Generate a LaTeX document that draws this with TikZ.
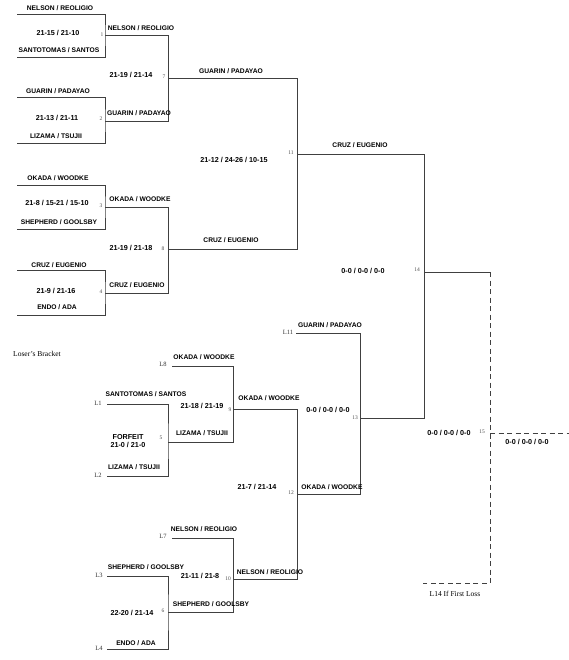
\documentclass[tikz,border=0pt]{standalone}
\usepackage{fontspec}
\setmainfont{Liberation Serif}
\newfontfamily\teamfont{Liberation Sans}
\begin{document}
\begin{tikzpicture}[x=1pt,y=-1pt,
  line/.style={draw=black!75, line width=0.75pt},
  dline/.style={line, dash pattern=on 5pt off 3.5pt},
  team/.style={font=\teamfont\bfseries\fontsize{6.7}{8}\selectfont, inner sep=0pt},
  score/.style={font=\teamfont\bfseries\fontsize{7.2}{8.5}\selectfont, inner sep=0pt, align=center},
  num/.style={font=\fontsize{5.5}{6}\selectfont, text=black!70, inner sep=0pt},
  lab/.style={font=\fontsize{6.5}{7}\selectfont, text=black!80, inner sep=0pt},
  note/.style={font=\fontsize{7.5}{8}\selectfont, inner sep=0pt}]
\useasboundingbox (0,0) rectangle (569,660);
% ---------- coordinates: winner's bracket
\coordinate (p1a) at (17,14);  \coordinate (p1b) at (17,57);  \coordinate (j1) at (105,35);
\coordinate (p2a) at (17,97);  \coordinate (p2b) at (17,143); \coordinate (j2) at (105,121);
\coordinate (p3a) at (17,185); \coordinate (p3b) at (17,229); \coordinate (j3) at (105,207);
\coordinate (p4a) at (17,270); \coordinate (p4b) at (17,315); \coordinate (j4) at (105,293);
\coordinate (j7) at (168,78);  \coordinate (j8) at (168,249);
\coordinate (j11) at (297,154); \coordinate (j14) at (424,272);
\coordinate (e14) at (490,272); \coordinate (j15) at (490,433); \coordinate (e15) at (569,433);
\coordinate (d15) at (490,583); \coordinate (f15) at (423,583);
% ---------- coordinates: loser's bracket
\coordinate (l1) at (107,404); \coordinate (l2) at (107,476); \coordinate (j5) at (168,442);
\coordinate (l8) at (172,366); \coordinate (j9) at (233,409);
\coordinate (l3) at (107,576); \coordinate (l4) at (107,649); \coordinate (j6) at (168,612);
\coordinate (l7) at (172,538); \coordinate (j10) at (233,579);
\coordinate (j12) at (297,494);
\coordinate (l11) at (296,333); \coordinate (j13) at (360,418);
% ---------- lines
\draw[line] (p1a) -| (j1) |- (p1b);
\draw[line] (p2a) -| (j2) |- (p2b);
\draw[line] (p3a) -| (j3) |- (p3b);
\draw[line] (p4a) -| (j4) |- (p4b);
\draw[line] (j1) -| (j7);  \draw[line] (j2) -| (j7);
\draw[line] (j3) -| (j8);  \draw[line] (j4) -| (j8);
\draw[line] (j7) -| (j11); \draw[line] (j8) -| (j11);
\draw[line] (j11) -| (j14); \draw[line] (j13) -| (j14);
\draw[line] (j14) -- (e14);
\draw[dline] (e14) -- (d15) -- (f15);
\draw[dline] (j15) -- (e15);
\draw[line] (l1) -| (j5) |- (l2);
\draw[line] (l3) -| (j6) |- (l4);
\draw[line] (l8) -| (j9);  \draw[line] (j5) -| (j9);
\draw[line] (l7) -| (j10); \draw[line] (j6) -| (j10);
\draw[line] (j9) -| (j12); \draw[line] (j10) -| (j12);
\draw[line] (l11) -| (j13); \draw[line] (j12) -| (j13);
% ---------- winner's bracket texts
\node[team]  (t1)  at (60,8)    {NELSON / REOLIGIO};
\node[score] (t2)  at (58,33)   {21-15 / 21-10};
\node[team]  (t3)  at (59,50)   {SANTOTOMAS / SANTOS};
\node[num]   (n1)  at (102,35)  {1};
\node[team]  (t4)  at (141,28)  {NELSON / REOLIGIO};
\node[team]  (t5)  at (58,91)   {GUARIN / PADAYAO};
\node[score] (t6)  at (57,118)  {21-13 / 21-11};
\node[team]  (t7)  at (56,136)  {LIZAMA / TSUJII};
\node[num]   (n2)  at (101,119) {2};
\node[team]  (t8)  at (139,113) {GUARIN / PADAYAO};
\node[score] (t9)  at (131,75)  {21-19 / 21-14};
\node[num]   (n7)  at (164,77)  {7};
\node[team]  (t10) at (58,178)  {OKADA / WOODKE};
\node[score] (t11) at (57,203)  {21-8 / 15-21 / 15-10};
\node[team]  (t12) at (59,222)  {SHEPHERD / GOOLSBY};
\node[num]   (n3)  at (101,206) {3};
\node[team]  (t13) at (140,199) {OKADA / WOODKE};
\node[score] (t14) at (131,248) {21-19 / 21-18};
\node[num]   (n8)  at (163,249) {8};
\node[team]  (t15) at (59,265)  {CRUZ / EUGENIO};
\node[score] (t16) at (56,291)  {21-9 / 21-16};
\node[team]  (t17) at (57,307)  {ENDO / ADA};
\node[num]   (n4)  at (101,292) {4};
\node[team]  (t18) at (137,285) {CRUZ / EUGENIO};
\node[team]  (t19) at (231,71)  {GUARIN / PADAYAO};
\node[score] (t20) at (234,160) {21-12 / 24-26 / 10-15};
\node[team]  (t21) at (231,240) {CRUZ / EUGENIO};
\node[num]   (n11) at (291,153) {11};
\node[team]  (t22) at (360,145) {CRUZ / EUGENIO};
\node[score] (t23) at (363,271) {0-0 / 0-0 / 0-0};
\node[num]   (n14) at (417,270) {14};
\node[score] (t24) at (449,433) {0-0 / 0-0 / 0-0};
\node[num]   (n15) at (482,432) {15};
\node[score] (t25) at (527,442) {0-0 / 0-0 / 0-0};
\node[note]  (t26) at (455,594) {L14 If First Loss};
% ---------- loser's bracket texts
\node[note]  (t27) at (37,354)  {Loser's Bracket};
\node[lab]   (a8)  at (163,364) {L8};
\node[team]  (t29) at (204,357) {OKADA / WOODKE};
\node[lab]   (a1)  at (98,403)  {L1};
\node[team]  (t31) at (146,394) {SANTOTOMAS / SANTOS};
\node[score] (t32) at (202,406) {21-18 / 21-19};
\node[num]   (n9)  at (230,410) {9};
\node[team]  (t33) at (269,398) {OKADA / WOODKE};
\node[score] (t34) at (128,441) {FORFEIT\\21-0 / 21-0};
\node[num]   (n5)  at (161,438) {5};
\node[team]  (t36) at (202,433) {LIZAMA / TSUJII};
\node[team]  (t37) at (134,467) {LIZAMA / TSUJII};
\node[lab]   (a2)  at (98,475)  {L2};
\node[score] (t39) at (257,487) {21-7 / 21-14};
\node[num]   (n12) at (291,493) {12};
\node[lab]   (a7)  at (163,536) {L7};
\node[team]  (t41) at (204,529) {NELSON / REOLIGIO};
\node[lab]   (a3)  at (99,575)  {L3};
\node[team]  (t43) at (146,567) {SHEPHERD / GOOLSBY};
\node[score] (t44) at (200,576) {21-11 / 21-8};
\node[num]   (n10) at (228,579) {10};
\node[team]  (t45) at (270,572) {NELSON / REOLIGIO};
\node[team]  (t46) at (211,604) {SHEPHERD / GOOLSBY};
\node[score] (t47) at (132,613) {22-20 / 21-14};
\node[num]   (n6)  at (163,611) {6};
\node[team]  (t48) at (136,643) {ENDO / ADA};
\node[lab]   (a4)  at (99,648)  {L4};
\node[lab]   (a11) at (288,332) {L11};
\node[team]  (t51) at (330,325) {GUARIN / PADAYAO};
\node[score] (t52) at (328,410) {0-0 / 0-0 / 0-0};
\node[num]   (n13) at (355,418) {13};
\node[team]  (t53) at (332,487) {OKADA / WOODKE};
\end{tikzpicture}
\end{document}
